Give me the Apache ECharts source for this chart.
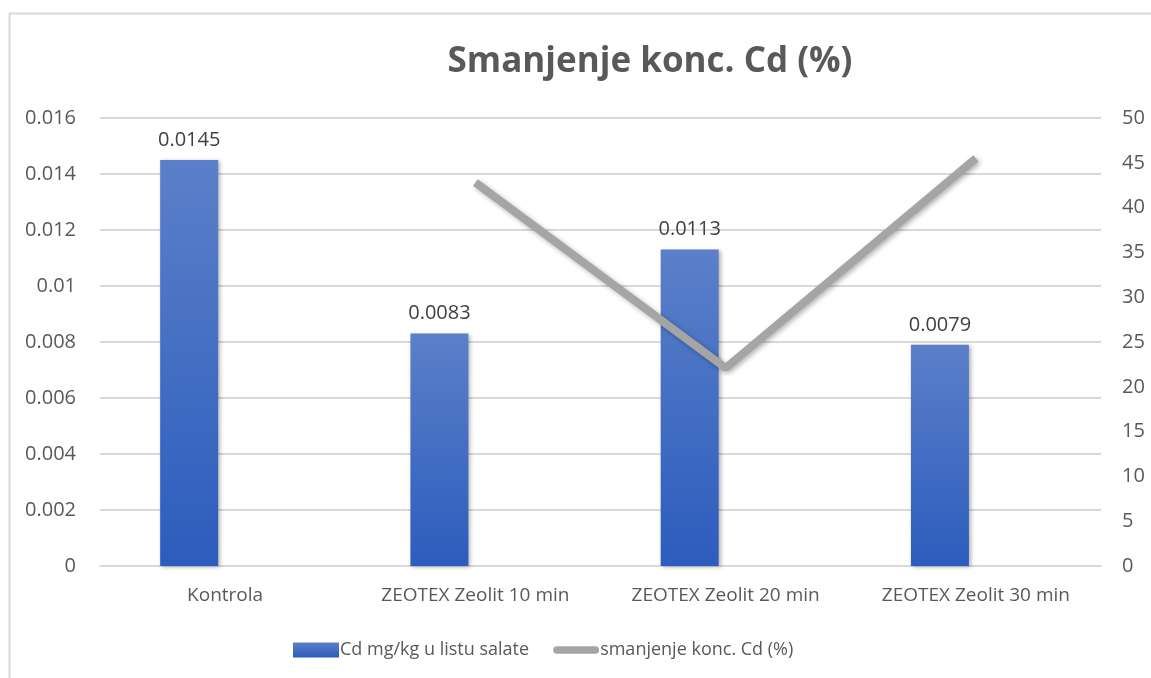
<!DOCTYPE html>
<html>
<head>
<meta charset="utf-8">
<script src="https://cdn.jsdelivr.net/npm/echarts@6/dist/echarts.min.js"></script>
<style>
  html, body { margin: 0; padding: 0; background: #fff; }
  #chart { width: 1151px; height: 678px; }
</style>
</head>
<body>
<div id="chart"></div>
<script>
// kategorije i vrijednosti
const categories = ['Kontrola', 'ZEOTEX Zeolit 10 min', 'ZEOTEX Zeolit 20 min', 'ZEOTEX Zeolit 30 min']
const cdValues = [0.0145, 0.0083, 0.0113, 0.0079]      // Cd mg/kg u listu salate
const reduction = [null, 42.8, 22.1, 45.5]              // smanjenje konc. Cd (%)
const emptySlot = [null, null, null, null]              // prazna serija (pomak stupaca kao u Excelu)

const chart = echarts.init(document.getElementById('chart'))
const font = '"Open Sans", "Noto Sans", sans-serif'
const txt = '#595959'
const gridColor = '#d9d9d9'
// ikona legende za liniju: zaobljena crta, s praznim rubom gore i dolje
const lineIcon = 'path://M0,0 M48,15 M4,3.5 L44,3.5 A4,4 0 0 1 44,11.5 L4,11.5 A4,4 0 0 1 4,3.5 Z'

const option = {
  animation: false,
  textStyle: { fontFamily: font },
  title: {
    text: 'Smanjenje konc. Cd (%)',
    left: 645,
    top: 40,
    textAlign: 'center',
    textStyle: { fontSize: 35, fontWeight: 'bold', color: txt, fontFamily: font }
  },
  graphic: [{
    type: 'rect',
    shape: { x: 9.5, y: 13.5, width: 1300, height: 800 },
    style: { fill: 'none', stroke: gridColor, lineWidth: 2 },
    silent: true
  }],
  legend: {
    data: [
      { name: 'Cd mg/kg u listu salate', icon: 'rect' },
      { name: 'smanjenje konc. Cd (%)', icon: lineIcon, itemStyle: { color: '#a5a5a5' } }
    ],
    bottom: 14,
    left: 288,
    itemGap: 24,
    textStyle: { fontSize: 18, color: txt, fontFamily: font, padding: [0, 0, 0, -4] },
    itemWidth: 46,
    itemHeight: 15
  },
  grid: { left: 100, right: 50, top: 118, bottom: 112 },
  xAxis: {
    type: 'category',
    data: categories,
    axisLine: { lineStyle: { color: gridColor, width: 2 } },
    axisTick: { show: false },
    axisLabel: { fontSize: 19, color: txt, margin: 20 }
  },
  yAxis: [
    {
      type: 'value',
      min: 0, max: 0.016, interval: 0.002,
      axisLabel: {
        fontSize: 20, color: txt, margin: 24,
        formatter: v => v === 0 ? '0' : String(+v.toFixed(3))
      },
      splitLine: { lineStyle: { color: gridColor, width: 2 } },
      axisLine: { show: false }
    },
    {
      type: 'value',
      min: 0, max: 50, interval: 5,
      axisLabel: { fontSize: 20, color: txt, margin: 21 },
      splitLine: { show: false },
      axisLine: { show: false }
    }
  ],
  series: [
    {
      name: 'Cd mg/kg u listu salate',
      type: 'bar',
      data: cdValues,
      barWidth: 58,
      barGap: '24%',
      itemStyle: {
        color: new echarts.graphic.LinearGradient(0, 0, 0, 1, [
          { offset: 0, color: '#5b80c9' },
          { offset: 1, color: '#2c5cbd' }
        ]),
        shadowColor: 'rgba(0,0,0,0.3)',
        shadowBlur: 4,
        shadowOffsetX: 2,
        shadowOffsetY: 1
      },
      label: {
        show: true,
        position: 'top',
        distance: 10,
        fontSize: 20,
        color: '#404040',
        formatter: p => p.value.toFixed(4)
      }
    },
    {
      name: 'prazno',
      type: 'bar',
      data: emptySlot,
      barWidth: 58
    },
    {
      name: 'smanjenje konc. Cd (%)',
      type: 'line',
      yAxisIndex: 1,
      data: reduction,
      symbol: 'none',
      lineStyle: {
        color: '#a5a5a5',
        width: 8,
        shadowColor: 'rgba(0,0,0,0.3)',
        shadowBlur: 5,
        shadowOffsetX: 2,
        shadowOffsetY: 2
      },
      itemStyle: { color: '#a5a5a5' }
    }
  ]
}

chart.setOption(option)
</script>
</body>
</html>
